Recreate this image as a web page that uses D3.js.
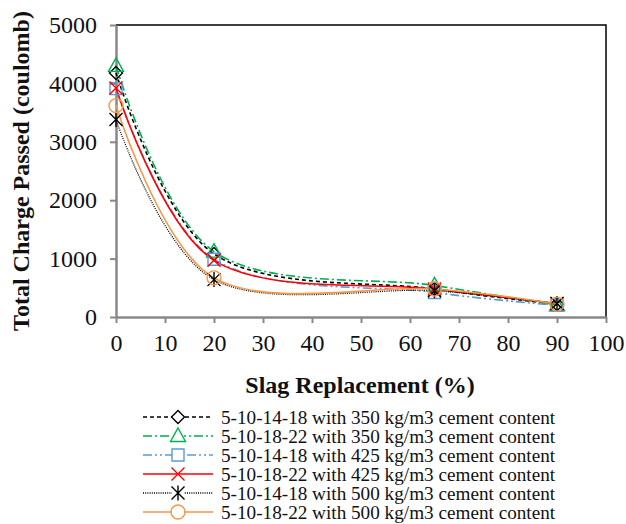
<!DOCTYPE html>
<html>
<head>
<meta charset="utf-8">
<script src="https://cdn.jsdelivr.net/npm/d3@7"></script>
</head>
<body style="margin:0">
<script>
// data
const slag = [0, 20, 65, 90];
const xTicks = [0, 10, 20, 30, 40, 50, 60, 70, 80, 90, 100];
const yTicks = [0, 1000, 2000, 3000, 4000, 5000];

const seriesNames = [
    "5-10-14-18 with 350 kg/m3 cement content",
    "5-10-18-22 with 350 kg/m3 cement content",
    "5-10-14-18 with 425 kg/m3 cement content",
    "5-10-18-22 with 425 kg/m3 cement content",
    "5-10-14-18 with 500 kg/m3 cement content",
    "5-10-18-22 with 500 kg/m3 cement content"
];
const mix1_350 = [4180, 1080, 480, 220];
const mix2_350 = [4300, 1120, 540, 200];
const mix1_425 = [3910, 990, 420, 200];
const mix2_425 = [3920, 970, 480, 230];
const mix1_500 = [3380, 640, 450, 230];
const mix2_500 = [3620, 670, 480, 220];

const seriesValues = [mix1_350, mix2_350, mix1_425, mix2_425, mix1_500, mix2_500];
const colors = ['#000000', '#00b050', '#5b9bd5', '#ff0000', '#000000', '#f79646'];
const dashes = ['4,3', '9,3,2,3', '9,3,2,3,2,3', null, '1,1.2', null];
const markers = ['diamond', 'triangle', 'square', 'cross', 'asterisk', 'circle'];

const width = 626, height = 524;
const margin = { top: 25, right: 20, bottom: 207, left: 116 };
const fontName = '"Liberation Serif"';

const svg = d3.select('body').append('svg')
    .attr('width', width)
    .attr('height', height)
    .style('font-family', fontName);

const xScale = d3.scaleLinear().domain([0, 100]).range([margin.left, width - margin.right]);
const yScale = d3.scaleLinear().domain([0, 5000]).range([height - margin.bottom, margin.top]);

// helper so every text gets the serif face set directly
function serifText(sel, size, bold) {
    sel.style('font-family', fontName)
        .style('font-size', size + 'px')
        .style('font-weight', bold ? 'bold' : 'normal')
        .attr('fill', '#111');
    return sel;
}

// plot frame (top + right black)
svg.append('path')
    .attr('d', `M${xScale(0)},${yScale(5000)}H${xScale(100)}V${yScale(0)}`)
    .attr('fill', 'none')
    .attr('stroke', '#000')
    .attr('stroke-width', 1.5);

// axes
const xAxis = svg.append('g')
    .attr('transform', `translate(0,${yScale(0)})`)
    .call(d3.axisBottom(xScale).tickValues(xTicks).tickFormat(d3.format('d'))
        .tickSizeInner(6).tickSizeOuter(0).tickPadding(11));
const yAxis = svg.append('g')
    .attr('transform', `translate(${xScale(0)},0)`)
    .call(d3.axisLeft(yScale).tickValues(yTicks).tickFormat(d3.format('d'))
        .tickSizeInner(6).tickSizeOuter(0).tickPadding(13));

[xAxis, yAxis].forEach(ax => {
    ax.attr('font-family', null).attr('font-size', null);
    ax.select('.domain').attr('stroke', '#888').attr('stroke-width', 2.5);
    ax.selectAll('.tick line').attr('stroke', '#888').attr('stroke-width', 2);
    serifText(ax.selectAll('.tick text'), 24, false);
});

// axis titles
serifText(svg.append('text')
    .attr('x', 360)
    .attr('y', 393)
    .attr('text-anchor', 'middle')
    .text('Slag Replacement (%)'), 24, true);

serifText(svg.append('text')
    .attr('transform', `translate(29,${yScale(2500)}) rotate(-90)`)
    .attr('text-anchor', 'middle')
    .text('Total Charge Passed (coulomb)'), 24, true);

// marker shapes
function drawMarker(g, type, color) {
    const s = 6.5;
    const p = g.append('path')
        .attr('fill', 'none')
        .attr('stroke', color)
        .attr('stroke-width', 1.4);
    if (type === 'diamond') p.attr('d', `M0,${-s}L${s},0L0,${s}L${-s},0Z`);
    if (type === 'triangle') p.attr('d', `M0,${-s - 1.5}L${s + 1},${s - 1}L${-s - 1},${s - 1}Z`);
    if (type === 'square') p.attr('d', `M${-s + 0.5},${-s + 0.5}H${s - 0.5}V${s - 0.5}H${-s + 0.5}Z`);
    if (type === 'cross') p.attr('d', `M${-s},${-s}L${s},${s}M${s},${-s}L${-s},${s}`);
    if (type === 'asterisk') p.attr('d', `M${-s},${-s}L${s},${s}M${s},${-s}L${-s},${s}M0,${-s - 1}V${s + 1}`);
    if (type === 'circle') p.attr('d', d3.arc()({ innerRadius: 0, outerRadius: s + 0.5, startAngle: 0, endAngle: 2 * Math.PI }));
}

const line = d3.line()
    .x(d => xScale(d[0]))
    .y(d => yScale(d[1]))
    .curve(d3.curveCatmullRom.alpha(0));

// lines
seriesValues.forEach((vals, i) => {
    const pts = slag.map((x, j) => [x, vals[j]]);
    svg.append('path')
        .datum(pts)
        .attr('d', line)
        .attr('fill', 'none')
        .attr('stroke', colors[i])
        .attr('stroke-width', i === 4 ? 1.3 : 1.6)
        .attr('stroke-dasharray', dashes[i]);
});

// markers on top
seriesValues.forEach((vals, i) => {
    slag.forEach((x, j) => {
        const g = svg.append('g').attr('transform', `translate(${xScale(x)},${yScale(vals[j])})`);
        drawMarker(g, markers[i], colors[i]);
    });
});

// legend
const legend = svg.append('g').attr('transform', 'translate(143,417)');
seriesNames.forEach((name, i) => {
    const row = legend.append('g').attr('transform', `translate(0,${i * 19})`);
    row.append('line')
        .attr('x1', 0).attr('x2', 70)
        .attr('y1', 0).attr('y2', 0)
        .attr('stroke', colors[i])
        .attr('stroke-width', i === 4 ? 1.3 : 1.6)
        .attr('stroke-dasharray', dashes[i]);
    const m = row.append('g').attr('transform', 'translate(35,0)');
    if (markers[i] !== 'cross') {
        m.append('rect').attr('x', -6).attr('y', -7).attr('width', 12).attr('height', 14).attr('fill', '#fff');
    }
    drawMarker(m, markers[i], colors[i]);
    serifText(row.append('text')
        .attr('x', 78)
        .attr('y', 0)
        .attr('dy', '0.35em')
        .text(name), 19.2, false);
});
</script>
</body>
</html>
